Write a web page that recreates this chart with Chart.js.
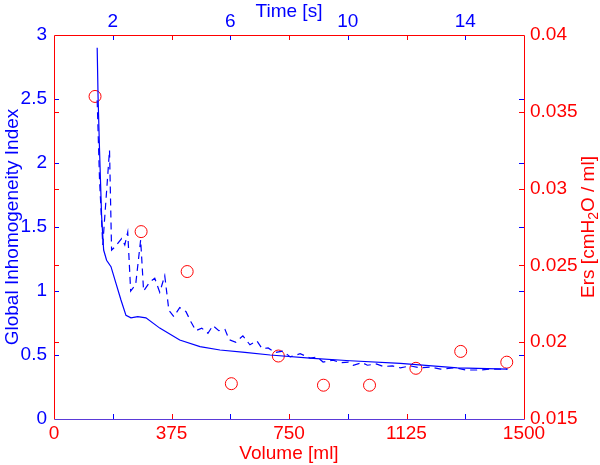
<!DOCTYPE html>
<html>
<head>
<meta charset="utf-8">
<script src="https://cdn.jsdelivr.net/npm/chart.js@4"></script>
<style>
  html, body { margin:0; padding:0; background:#fff; }
  #chart { display:block; }
</style>
</head>
<body>
<canvas id="chart" width="600" height="465"></canvas>
<script>
// ── DATA ──
// solid line: Global Inhomogeneity Index vs time
const TIME_SOLID = [1.47,1.50,1.55,1.62,1.69,1.79,1.94,2.11,2.28,2.45,2.62,2.85,3.13,3.60,4.28,4.97,5.65,6.50,7.36,8.82,10.08,11.79,13.73,15.43];
const GI_SOLID   = [2.90,2.52,2.10,1.59,1.32,1.24,1.19,1.06,0.93,0.81,0.79,0.80,0.79,0.71,0.617,0.565,0.539,0.52,0.50,0.474,0.455,0.435,0.40,0.39];

// dashed line: Global Inhomogeneity Index vs time (breath by breath)
const TIME_DASHED = [1.47,1.55,1.66,1.89,1.96,2.10,2.30,2.41,2.51,2.61,2.78,2.95,3.05,3.26,3.43,3.60,3.77,3.91,4.08,4.28,4.49,4.66,4.83,5.03,5.24,5.41,5.61,5.82,5.96,6.19,6.43,6.67,6.91,7.08,7.29,7.53,7.80,8.04,8.38,8.72,8.96,9.16,9.50,9.74,10.02,10.19,10.49,10.67,10.97,11.21,11.52,11.79,12.13,12.47,12.82,13.16,13.67,14.01,14.52,14.86,15.44];
const GI_DASHED   = [2.49,1.87,1.36,2.10,1.32,1.35,1.41,1.36,1.46,1.00,1.05,1.40,1.00,1.07,1.10,0.99,1.12,0.85,0.80,0.87,0.84,0.76,0.69,0.71,0.67,0.73,0.69,0.70,0.62,0.60,0.65,0.58,0.61,0.55,0.555,0.52,0.53,0.485,0.51,0.476,0.485,0.445,0.46,0.44,0.445,0.42,0.44,0.42,0.43,0.41,0.415,0.40,0.415,0.40,0.405,0.39,0.40,0.383,0.383,0.39,0.39];

// circles: Ers vs volume
const VOLUME_ML = [131,278,425,566,716,860,1007,1155,1298,1445];
const ERS       = [0.0360,0.0272,0.0246,0.0173,0.0191,0.0172,0.0172,0.0183,0.0194,0.0187];

// axis ticks
const VOL_TICKS  = [0,375,750,1125,1500];
const TIME_TICKS = [2,6,10,14];
const GI_TICKS   = [0,0.5,1,1.5,2,2.5,3];
const ERS_TICKS  = [0.015,0.02,0.025,0.03,0.035,0.04];

const BLUE = '#0000ff';
const RED  = '#ff0000';
const FONT = '"Liberation Sans", Arial, sans-serif';

const pts = (xs, ys) => xs.map((x, i) => ({ x, y: ys[i] }));

Chart.defaults.font.family = FONT;
Chart.defaults.font.size = 19;

// ── FRAME + INWARD TICKS ──
const frame = {
  id: 'frame',
  afterDatasetsDraw(chart) {
    const { ctx, chartArea: a, scales } = chart;
    const L = 5;
    const r = v => Math.round(v) + 0.5;
    ctx.save();
    ctx.lineWidth = 1;
    const vline = (px, color) => {
      ctx.strokeStyle = color;
      ctx.beginPath();
      ctx.moveTo(r(px), a.bottom); ctx.lineTo(r(px), a.bottom - L);
      ctx.moveTo(r(px), a.top);    ctx.lineTo(r(px), a.top + L);
      ctx.stroke();
    };
    const hline = (py, color) => {
      ctx.strokeStyle = color;
      ctx.beginPath();
      ctx.moveTo(a.left, r(py));  ctx.lineTo(a.left + L, r(py));
      ctx.moveTo(a.right, r(py)); ctx.lineTo(a.right - L, r(py));
      ctx.stroke();
    };
    VOL_TICKS.slice(1, -1).forEach(v => vline(scales.x.getPixelForValue(v), RED));
    TIME_TICKS.forEach(t => vline(scales.xt.getPixelForValue(t), BLUE));
    GI_TICKS.slice(1, -1).forEach(g => hline(scales.y.getPixelForValue(g), BLUE));
    ERS_TICKS.slice(1, -1).forEach(e => hline(scales.y2.getPixelForValue(e), RED));

    // box
    ctx.strokeStyle = RED;
    ctx.beginPath();
    ctx.moveTo(r(a.left), r(a.bottom)); ctx.lineTo(r(a.left), r(a.top));
    ctx.lineTo(r(a.right), r(a.top));   ctx.lineTo(r(a.right), r(a.bottom));
    ctx.stroke();
    ctx.strokeStyle = '#5a3ad8';
    ctx.beginPath();
    ctx.moveTo(r(a.left), r(a.bottom)); ctx.lineTo(r(a.right), r(a.bottom));
    ctx.stroke();
    ctx.restore();
  },
  afterDraw(chart) {
    // right axis title, with subscript 2
    const { ctx, chartArea: a } = chart;
    const parts = [['Ers [cmH', 19, 0], ['2', 14, 5], ['O / ml]', 19, 0]];
    ctx.save();
    let total = 0;
    parts.forEach(([s, sz]) => { ctx.font = sz + 'px ' + FONT; total += ctx.measureText(s).width; });
    ctx.translate(589, (a.top + a.bottom) / 2);
    ctx.rotate(-Math.PI / 2);
    ctx.fillStyle = RED;
    ctx.textBaseline = 'middle';
    let x = -total / 2;
    parts.forEach(([s, sz, dy]) => {
      ctx.font = sz + 'px ' + FONT;
      ctx.fillText(s, x, dy);
      x += ctx.measureText(s).width;
    });
    ctx.restore();
  }
};

const fixW = w => s => { s.width = w; };
const fixH = h => s => { s.height = h; };

new Chart(document.getElementById('chart'), {
  type: 'scatter',
  data: {
    datasets: [
      { label: 'GI', data: pts(TIME_SOLID, GI_SOLID), xAxisID: 'xt', yAxisID: 'y',
        showLine: true, borderColor: BLUE, borderWidth: 1.2, pointRadius: 0, tension: 0 },
      { label: 'GI dashed', data: pts(TIME_DASHED, GI_DASHED), xAxisID: 'xt', yAxisID: 'y',
        showLine: true, borderColor: BLUE, borderWidth: 1.2, borderDash: [7, 5], pointRadius: 0, tension: 0 },
      { label: 'Ers', data: pts(VOLUME_ML, ERS), xAxisID: 'x', yAxisID: 'y2',
        showLine: false, pointStyle: 'circle', pointRadius: 6, borderColor: RED,
        backgroundColor: 'rgba(0,0,0,0)', borderWidth: 1 },
    ]
  },
  options: {
    responsive: false, animation: false, devicePixelRatio: 1,
    layout: { padding: 0 },
    plugins: { legend: { display: false }, tooltip: { enabled: false } },
    scales: {
      x: {
        type: 'linear', position: 'bottom', min: 0, max: 1500,
        afterBuildTicks: s => { s.ticks = VOL_TICKS.map(v => ({ value: v })); },
        grid: { display: false, drawTicks: false }, border: { display: false },
        ticks: { color: RED, padding: 3, maxRotation: 0, autoSkip: false, callback: v => String(v) },
        title: { display: true, text: 'Volume [ml]', color: RED, padding: { top: 0, bottom: 0 } },
        afterFit: fixH(46),
      },
      xt: {
        type: 'linear', position: 'top', min: 0, max: 16,
        afterBuildTicks: s => { s.ticks = TIME_TICKS.map(v => ({ value: v })); },
        grid: { display: false, drawTicks: false }, border: { display: false },
        ticks: { color: BLUE, padding: 2, maxRotation: 0, autoSkip: false, callback: v => String(v) },
        title: { display: true, text: 'Time [s]', color: BLUE, padding: { top: 0, bottom: 0 } },
        afterFit: fixH(35),
      },
      y: {
        type: 'linear', position: 'left', min: 0, max: 3,
        afterBuildTicks: s => { s.ticks = GI_TICKS.map(v => ({ value: v })); },
        grid: { display: false, drawTicks: false }, border: { display: false },
        ticks: { color: BLUE, padding: 7, callback: v => String(v) },
        title: { display: true, text: 'Global Inhomogeneity Index', color: BLUE, padding: { top: 1, bottom: 0 } },
        afterFit: fixW(54),
      },
      y2: {
        type: 'linear', position: 'right', min: 0.015, max: 0.04,
        afterBuildTicks: s => { s.ticks = ERS_TICKS.map(v => ({ value: v })); },
        grid: { display: false, drawTicks: false }, border: { display: false },
        ticks: { color: RED, padding: 6, callback: v => String(+v.toFixed(3)) },
        afterFit: fixW(76),
      },
    }
  },
  plugins: [frame]
});
</script>
</body>
</html>
